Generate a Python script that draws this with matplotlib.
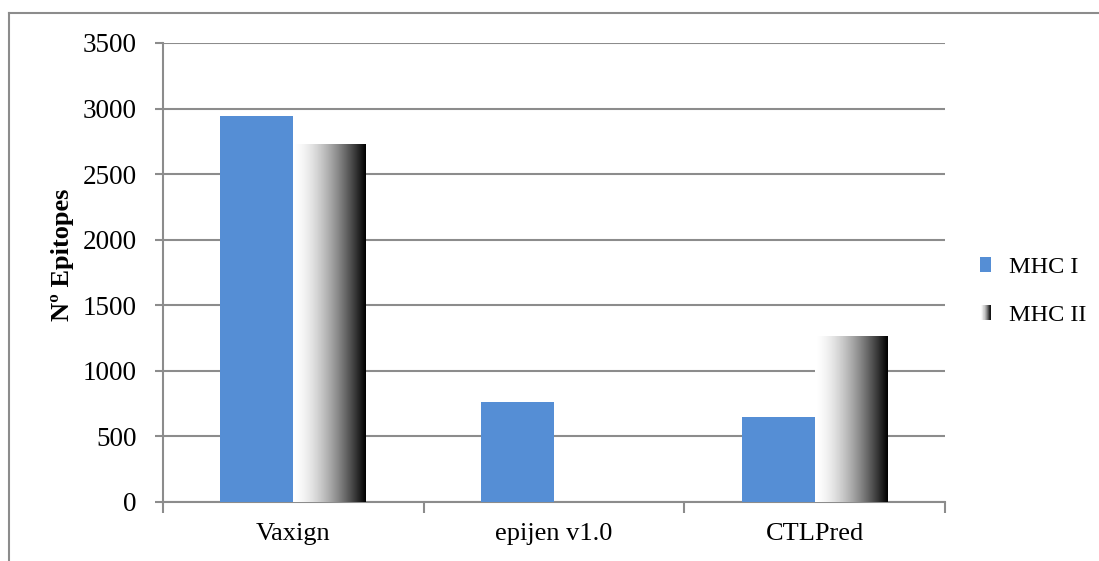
import numpy as np
import matplotlib.pyplot as plt
from matplotlib.patches import Rectangle
from matplotlib.legend_handler import HandlerBase
from matplotlib.lines import Line2D

# Data
categories = ['Vaxign', 'epijen v1.0', 'CTLPred']
mhc1 = [2940, 760, 645]
mhc2 = [2725, 0, 1265]
series_names = ['MHC I', 'MHC II']
yticks = [0, 500, 1000, 1500, 2000, 2500, 3000, 3500]

blue = '#558ed5'
gray = '#8c8c8c'


def grad_row(n=200):
  t = np.linspace(0, 1, n)
  g = 1 - t ** 1.6
  return np.clip(g, 0, 1)


class GradientHandler(HandlerBase):
  def create_artists(self, legend, orig_handle, xdescent, ydescent,
                     width, height, fontsize, trans):
    g = grad_row(20)
    arts = []
    w = width / len(g)
    for i, v in enumerate(g):
      r = Rectangle((-xdescent + i * w, -ydescent), w * 1.05, height,
                    facecolor=(v, v, v), edgecolor='none', transform=trans)
      arts.append(r)
    return arts


plt.rcParams['font.family'] = ['Liberation Serif']
fs = 19
fig = plt.figure(figsize=(10.99, 5.61), dpi=100)
ax = fig.add_axes([0.1483, 0.1052, 0.8599 - 0.1483, 0.9234 - 0.1052])

x = np.arange(len(categories))
w = 0.28
ax.bar(x - w / 2, mhc1, w, color=blue, zorder=3)
bars2 = ax.bar(x + w / 2, mhc2, w, color='none', zorder=3)

img = grad_row()[None, :]
for b in bars2:
  if b.get_height() > 0:
    ax.imshow(img, cmap='gray', vmin=0, vmax=1, aspect='auto',
              extent=[b.get_x(), b.get_x() + b.get_width(), 0, b.get_height()],
              zorder=3, interpolation='bilinear')

ax.set_xlim(-0.5, len(categories) - 0.5)
ax.set_ylim(0, 3500)
ax.set_yticks(yticks)
ax.tick_params(axis='y', labelsize=fs + 0.5, length=6, width=1.5, color=gray, pad=13)
ax.set_xticks(np.arange(len(categories) + 1) - 0.5)
ax.set_xticklabels([])
ax.set_xticks(x, minor=True)
ax.set_xticklabels(categories, minor=True)
ax.tick_params(axis='x', which='major', length=8, width=1.5, color=gray)
ax.tick_params(axis='x', which='minor', length=0, labelsize=fs, pad=15)

ax.grid(axis='y', color=gray, linewidth=1.5, zorder=0)
for s in ['top', 'right']:
  ax.spines[s].set_visible(False)
for s in ['left', 'bottom']:
  ax.spines[s].set_color(gray)
  ax.spines[s].set_linewidth(1.5)

ax.set_ylabel('Nº Epitopes', fontsize=fs, fontweight='bold')
ax.yaxis.set_label_coords(-0.114, 0.538)

h1 = Rectangle((0, 0), 1, 1, facecolor=blue)
h2 = Rectangle((0, 0), 1, 1, facecolor='gray')
fig.legend([h1, h2], series_names, loc='center left',
           bbox_to_anchor=(0.872, 0.481), frameon=False, fontsize=17.5,
           handlelength=0.45, handleheight=0.6, handletextpad=0.75,
           labelspacing=1.1, handler_map={h2: GradientHandler()})

# outer frame
fig.add_artist(Line2D([9 / 1099, 1.02], [1 - 12.5 / 561, 1 - 12.5 / 561],
                      transform=fig.transFigure, color=gray, lw=1.5))
fig.add_artist(Line2D([9 / 1099, 9 / 1099], [-0.02, 1 - 12.5 / 561],
                      transform=fig.transFigure, color=gray, lw=1.5))

fig.savefig('out.png', dpi=100)
